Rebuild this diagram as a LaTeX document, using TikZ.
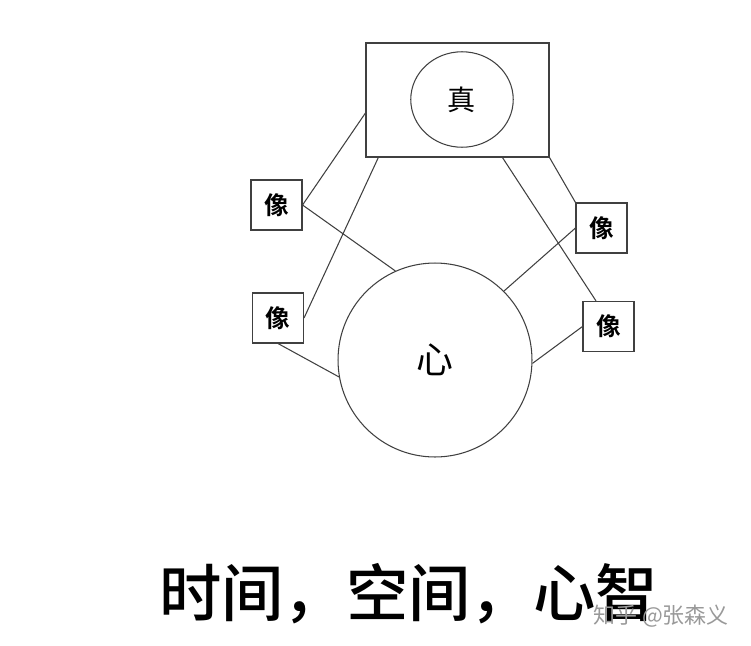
\documentclass[tikz,border=0pt]{standalone}
\usepackage{fontspec}
\usepackage{tikz}
\usetikzlibrary{shapes.geometric}
\newfontfamily\cjk{Noto Sans CJK SC}
\newfontfamily\cjkbold{Noto Sans CJK SC Bold}
\newfontfamily\cjkmed{Noto Sans CJK SC Medium}

\begin{document}
\begin{tikzpicture}[x=0.02cm, y=-0.02cm,
    every node/.style={font=\cjk},
    link/.style={black!75, line width=0.6pt},
    imgbox/.style={draw=black!75, line width=0.6pt, minimum width=1.02cm, minimum height=1.0cm, inner sep=0pt, font=\cjkbold\fontsize{14}{14}\selectfont}]
  \useasboundingbox (0,0) rectangle (751,646);

  % the true: box with an ellipse inside
  \node[draw=black!75, line width=0.6pt, minimum width=3.66cm, minimum height=2.28cm, inner sep=0pt] (truth) at (457.5,100) {};
  \node[draw=black!75, line width=0.6pt, ellipse, minimum width=2.05cm, minimum height=1.91cm, inner sep=0pt, font=\cjk\fontsize{16}{16}\selectfont] (zhen) at (462,99.5) {真};

  % the mind
  \node[draw=black!75, line width=0.6pt, circle, minimum size=3.88cm, inner sep=0pt, font=\cjk\fontsize{21}{21}\selectfont] (heart) at (435,360) {心};

  % images, two on each side
  \node[imgbox] (imgA) at (276.5,205) {像};
  \node[imgbox] (imgB) at (278,318) {像};
  \node[imgbox] (imgC) at (601.5,228) {像};
  \node[imgbox] (imgD) at (608.5,326.5) {像};

  % links, left side
  \draw[link] (truth.188) -- (imgA.east);
  \draw[link] (truth.216) -- (imgB.east);
  \draw[link] (imgA.east) -- (heart.114);
  \draw[link] (imgB.south) -- (heart.190);

  % links, right side
  \draw[link] (truth.south east) -- (imgC.north west);
  \draw[link] (truth.308) -- (imgD.116);
  \draw[link] (imgC.west) -- (heart.45);
  \draw[link] (imgD.west) -- (heart.-2);

  % caption and mark
  \node[font=\cjkmed\fontsize{35.5}{35.5}\selectfont] (title) at (408.5,594) {时间，空间，心智};
  \node[font=\cjk\fontsize{12.5}{12.5}\selectfont, text=black!40] (mark) at (661,616) {知乎 @张森义};
\end{tikzpicture}
\end{document}
